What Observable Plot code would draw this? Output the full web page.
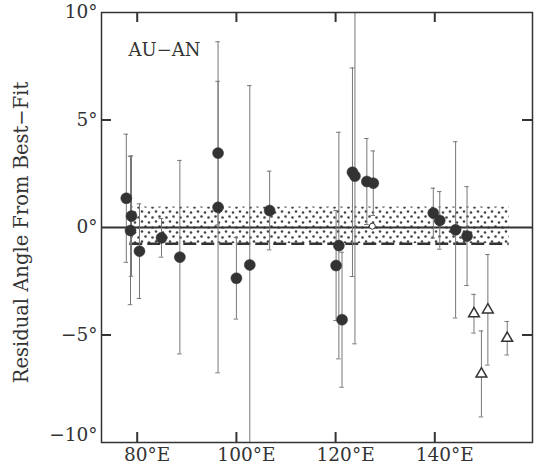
<!DOCTYPE html>
<html>
<head>
<meta charset="utf-8">
<script src="https://cdn.jsdelivr.net/npm/d3@7"></script>
<script src="https://cdn.jsdelivr.net/npm/@observablehq/plot@0.6"></script>
<style>
  html, body { margin: 0; padding: 0; background: white; }
  #chart { width: 539px; height: 469px; }
</style>
</head>
<body>
<div id="chart"></div>
<script>
// Filled circles: longitude (°E), residual (°), 1-sigma error (°)
const lon    = [77.8, 78.85, 78.65, 80.46, 84.9, 88.6, 96.3, 96.3, 100.0, 102.7, 106.7, 120.1, 120.66, 121.3, 123.4, 123.9, 126.3, 127.6, 139.7, 141.0, 144.2, 146.5];
const resid  = [1.36, 0.53, -0.14, -1.1, -0.48, -1.38, 3.46, 0.94, -2.36, -1.74, 0.79, -1.77, -0.84, -4.29, 2.57, 2.39, 2.14, 2.06, 0.67, 0.33, -0.11, -0.4];
const err    = [2.98, 2.8, 3.45, 2.2, 0.9, 4.5, 3.34, 7.7, 1.9, 8.34, 1.83, 2.56, 5.27, 3.14, 4.85, 7.8, 2.0, 1.5, 1.16, 1.34, 4.1, 2.3];

// Open triangles
const triLon   = [147.9, 149.4, 150.7, 154.6];
const triResid = [-4.01, -6.81, -3.83, -5.15];
const triErr   = [0.9, 2.0, 2.57, 0.78];

// Open circle
const openLon   = [127.4];
const openResid = [0.06];

// Stippled band (best-fit uncertainty) and dashed line
const bandLon = [78.5, 155];
const bandTop = 0.95;
const bandBottom = -0.75;

const xDomain = [72.8, 159.7];
const yDomain = [-10, 10];
const xTicks = [80, 100, 120, 140];
const yTicks = [-5, 0, 5, 10];
const yTickBottom = [-10];
const sideTicks = [-5, 5];
const panelLabel = "AU−AN";
const yLabel = "Residual Angle From Best−Fit";

const pts = lon.map((x, i) => ({x, y: resid[i], lo: resid[i] - err[i], hi: resid[i] + err[i]}));
const tris = triLon.map((x, i) => ({x, y: triResid[i], lo: triResid[i] - triErr[i], hi: triResid[i] + triErr[i]}));
const opens = openLon.map((x, i) => ({x, y: openResid[i]}));
const bars = pts.concat(tris);
const band = [{x1: bandLon[0], x2: bandLon[1], y1: bandBottom, y2: bandTop}];

const W = 539, H = 469, mL = 101, mR = 7, mT = 12, mB = 27;
const fmtY = d => (d < 0 ? "−" : "") + Math.abs(d) + "°";
const ink = "#333";
const capHalf = 0.45;
const tl = 10; // inward tick length in px
const tlY = tl * (yDomain[1] - yDomain[0]) / (H - mT - mB);
const tlX = tl * (xDomain[1] - xDomain[0]) / (W - mL - mR);
const tickStyle = {stroke: ink, strokeWidth: 2};

const chart = Plot.plot({
  width: W,
  height: H,
  marginLeft: mL,
  marginRight: mR,
  marginTop: mT,
  marginBottom: mB,
  x: {domain: xDomain},
  y: {domain: yDomain},
  style: {fontFamily: "DejaVu Serif", fontSize: "18.5px", color: ink, background: "white"},
  marks: [
    Plot.rect(band, {x1: "x1", x2: "x2", y1: "y1", y2: "y2", fill: "url(#stip)"}),
    Plot.ruleY([bandBottom], {x1: bandLon[0], x2: bandLon[1], stroke: ink, strokeWidth: 2.5, strokeDasharray: "13,5"}),
    Plot.ruleY([0], {stroke: ink, strokeWidth: 2}),
    Plot.ruleX(bars, {x: "x", y1: "lo", y2: "hi", stroke: "#777", strokeWidth: 1, clip: true}),
    Plot.ruleY(bars.filter(d => d.hi <= 10), {y: "hi", x1: d => d.x - capHalf, x2: d => d.x + capHalf, stroke: "#777", strokeWidth: 1}),
    Plot.ruleY(bars.filter(d => d.lo >= -10), {y: "lo", x1: d => d.x - capHalf, x2: d => d.x + capHalf, stroke: "#777", strokeWidth: 1}),
    Plot.dot(pts, {x: "x", y: "y", r: 5.5, fill: ink, stroke: ink, strokeWidth: 0.5}),
    Plot.dot(opens, {x: "x", y: "y", r: 3, fill: "white", stroke: ink, strokeWidth: 1}),
    Plot.dot(tris, {x: "x", y: "y", symbol: "triangle", r: 4, fill: "white", stroke: ink, strokeWidth: 1.5}),
    Plot.frame({stroke: ink, strokeWidth: 1.5}),
    // inward tick marks
    Plot.ruleX(xTicks, {x: d => d, y1: yDomain[0], y2: yDomain[0] + tlY, ...tickStyle}),
    Plot.ruleX(xTicks, {x: d => d, y1: yDomain[1], y2: yDomain[1] - tlY, ...tickStyle}),
    Plot.ruleY(sideTicks, {y: d => d, x1: xDomain[0], x2: xDomain[0] + tlX, ...tickStyle}),
    Plot.ruleY(sideTicks, {y: d => d, x1: xDomain[1], x2: xDomain[1] - tlX, ...tickStyle}),
    // tick labels
    Plot.axisX(xTicks, {anchor: "bottom", tickSize: 0, tickPadding: 5, dx: 10, tickFormat: d => d + "°E", label: null}),
    Plot.axisY(yTicks, {anchor: "left", tickSize: 0, tickPadding: 4, tickFormat: fmtY, label: null}),
    Plot.axisY(yTickBottom, {anchor: "left", tickSize: 0, tickPadding: 4, dy: -7, tickFormat: fmtY, label: null}),
    Plot.text([panelLabel], {frameAnchor: "top-left", dx: 27, dy: 31, text: d => d, textAnchor: "start", fontSize: 18, fill: ink}),
    Plot.text([yLabel], {frameAnchor: "left", dx: -80, dy: 5, rotate: -90, textAnchor: "middle", text: d => d, fontSize: 19.5, fill: ink})
  ]
});

// Stipple pattern for the band
const ns = "http://www.w3.org/2000/svg";
const defs = document.createElementNS(ns, "defs");
const pat = document.createElementNS(ns, "pattern");
pat.setAttribute("id", "stip");
pat.setAttribute("patternUnits", "userSpaceOnUse");
pat.setAttribute("width", "14");
pat.setAttribute("height", "10");
[[2, 1.5], [9, 2.5], [5.5, 6.5], [12.5, 7.5]].forEach(([cx, cy]) => {
  const c = document.createElementNS(ns, "circle");
  c.setAttribute("cx", cx);
  c.setAttribute("cy", cy);
  c.setAttribute("r", 1.3);
  c.setAttribute("fill", "#444");
  pat.appendChild(c);
});
defs.appendChild(pat);
chart.insertBefore(defs, chart.firstChild);

document.getElementById("chart").appendChild(chart);
</script>
</body>
</html>
